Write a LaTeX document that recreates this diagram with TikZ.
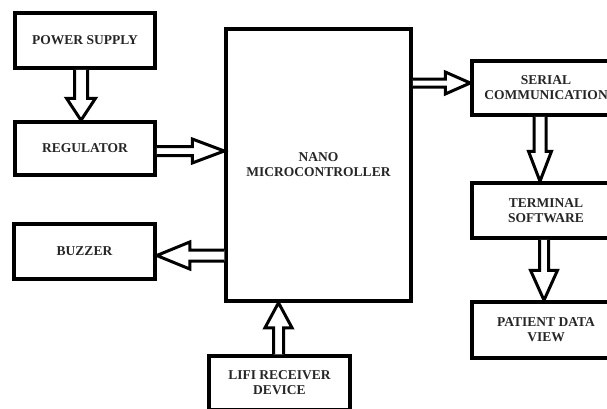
\documentclass[tikz,border=0pt]{standalone}
\usepackage{fontspec}
\setmainfont{Liberation Serif}
\usetikzlibrary{calc}
\definecolor{txt}{HTML}{262626}
\tikzset{
  box/.style={draw=black, line width=3.5pt, rectangle, inner sep=0pt, align=center,
    text=txt, font=\fontsize{13.5}{15}\selectfont\bfseries},
  arrowline/.style={draw=black, line width=3pt, line join=miter, fill=white}
}
\newcommand{\blockarrow}[5]{%
  \coordinate (ba-h) at ($(#2)!#5!(#1)$);
  \draw[arrowline] ($(#1)!#3!90:(#2)$) -- ($(ba-h)!#3!90:(#2)$) -- ($(ba-h)!#4!90:(#2)$)
    -- (#2) -- ($(ba-h)!#4!-90:(#2)$) -- ($(ba-h)!#3!-90:(#2)$) -- ($(#1)!#3!-90:(#2)$);
}
\begin{document}
\begin{tikzpicture}[x=1pt,y=-1pt]
\clip (0,0) rectangle (607,408);
\fill[white] (0,0) rectangle (607,408);
\node[box, minimum width=140pt, minimum height=55pt] (ps) at (85,40.5) {POWER SUPPLY};
\node[box, minimum width=140pt, minimum height=53pt] (reg) at (85,148.5) {REGULATOR};
\node[box, minimum width=141pt, minimum height=55pt] (buz) at (84.5,251.5) {BUZZER};
\node[box, minimum width=185pt, minimum height=272pt] (nano) at (318.5,165) {NANO\\MICROCONTROLLER};
\node[box, minimum width=141pt, minimum height=54pt] (lifi) at (279.5,383) {LIFI RECEIVER\\DEVICE};
\node[box, minimum width=148pt, minimum height=54pt] (ser) at (546,88) {SERIAL\\COMMUNICATION};
\node[box, minimum width=148pt, minimum height=55pt] (term) at (546,210.5) {TERMINAL\\SOFTWARE};
\node[box, minimum width=148pt, minimum height=56pt] (pat) at (546,330) {PATIENT DATA\\VIEW};

\coordinate (a1s) at ([xshift=-4pt]ps.south);
\coordinate (a1e) at (a1s |- reg.north);
\coordinate (a2s) at ([yshift=-2.5pt]reg.east);
\coordinate (a2e) at (a2s -| nano.west);
\coordinate (a3e) at ([yshift=5pt]ser.west);
\coordinate (a3s) at (a3e -| nano.east);
\coordinate (a4s) at ([xshift=-6pt]ser.south);
\coordinate (a4e) at (a4s |- term.north);
\coordinate (a5s) at ([xshift=-2pt]term.south);
\coordinate (a5e) at (a5s |- pat.north);
\coordinate (a6e) at ([yshift=-4pt]buz.east);
\coordinate (a6s) at (a6e -| nano.west);
\coordinate (a7s) at ([xshift=-1pt]lifi.north);
\coordinate (a7e) at (a7s |- nano.south);

\blockarrow{a1s}{a1e}{6.5pt}{14.5pt}{22pt}
\blockarrow{a2s}{a2e}{4.5pt}{12pt}{32pt}
\blockarrow{a3s}{a3e}{4pt}{11pt}{25pt}
\blockarrow{a4s}{a4e}{6pt}{11.5pt}{30pt}
\blockarrow{a5s}{a5e}{4.5pt}{13.5pt}{30pt}
\blockarrow{a6s}{a6e}{5.5pt}{13.5pt}{33pt}
\blockarrow{a7s}{a7e}{5pt}{13.5pt}{25pt}
\end{tikzpicture}
\end{document}
